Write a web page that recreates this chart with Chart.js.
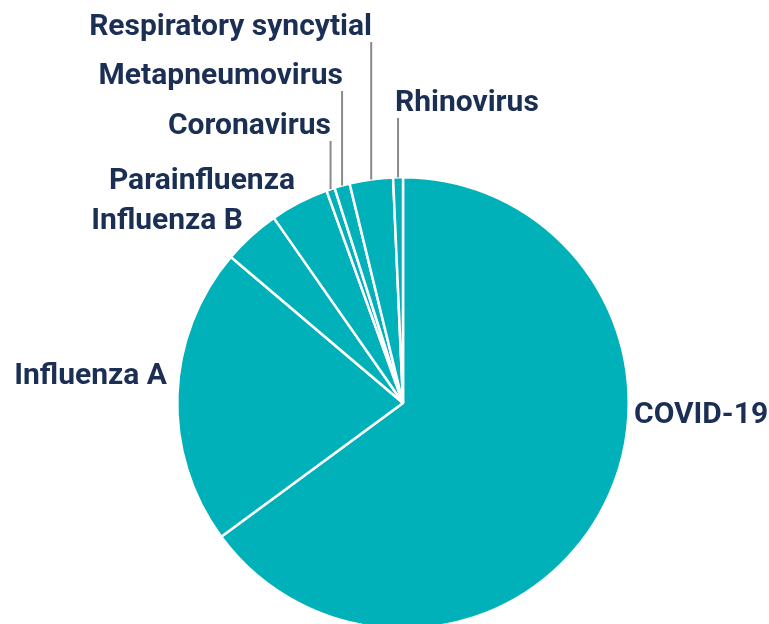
<!DOCTYPE html>
<html>
<head>
<meta charset="utf-8">
<script src="https://cdn.jsdelivr.net/npm/chart.js@4/dist/chart.umd.min.js"></script>
<style>
  html, body { margin: 0; padding: 0; background: #fff; overflow: hidden; }
  canvas { display: block; }
</style>
</head>
<body>
<canvas id="pieChart" width="769" height="640"></canvas>
<script>
// data, clockwise from 12 o'clock
const viruses = ["COVID-19", "Influenza A", "Influenza B", "Parainfluenza",
                 "Coronavirus", "Metapneumovirus", "Respiratory syncytial", "Rhinovirus"];
const shares = [64.9, 21.3, 4.1, 4.2, 0.6, 1.1, 3.1, 0.7];

// text anchor (baseline) for each label, and whether it gets a leader line
const labelLayout = {
    "COVID-19":              { x: 634, y: 423, align: "left" },
    "Influenza A":           { x: 167, y: 384, align: "right" },
    "Influenza B":           { x: 243, y: 229, align: "right" },
    "Parainfluenza":         { x: 295, y: 189, align: "right" },
    "Coronavirus":           { x: 331, y: 134, align: "right", leader: true },
    "Metapneumovirus":       { x: 343, y: 84,  align: "right", leader: true },
    "Respiratory syncytial": { x: 372, y: 35,  align: "right", leader: true },
    "Rhinovirus":            { x: 395, y: 111, align: "left",  leader: true }
};

const sliceLabels = {
    id: "sliceLabels",
    afterDraw(chart) {
        const ctx = chart.ctx;
        const meta = chart.getDatasetMeta(0);
        ctx.save();
        meta.data.forEach((arc, i) => {
            const pos = labelLayout[viruses[i]];
            if (!pos) return;
            if (pos.leader) {
                const mid = (arc.startAngle + arc.endAngle) / 2;
                const ax = arc.x + Math.cos(mid) * arc.outerRadius;
                const ay = arc.y + Math.sin(mid) * arc.outerRadius;
                ctx.strokeStyle = "#8a8a8a";
                ctx.lineWidth = 2;
                ctx.beginPath();
                ctx.moveTo(ax, ay);
                ctx.lineTo(ax, pos.y + 7);
                ctx.stroke();
            }
            ctx.fillStyle = "#1b2f55";
            ctx.font = "bold 30px Roboto";
            ctx.textAlign = pos.align;
            ctx.textBaseline = "alphabetic";
            ctx.fillText(viruses[i], pos.x, pos.y);
        });
        ctx.restore();
    }
};

const ctx = document.getElementById("pieChart").getContext("2d");
new Chart(ctx, {
    type: "pie",
    data: {
        labels: viruses,
        datasets: [{
            data: shares,
            backgroundColor: "#00b1ba",
            borderColor: "#ffffff",
            borderWidth: 2.5
        }]
    },
    options: {
        responsive: false,
        animation: false,
        layout: { padding: { left: 176, right: 139, top: 176, bottom: 10 } },
        plugins: {
            legend: { display: false },
            tooltip: { enabled: false }
        }
    },
    plugins: [sliceLabels]
});
</script>
</body>
</html>
